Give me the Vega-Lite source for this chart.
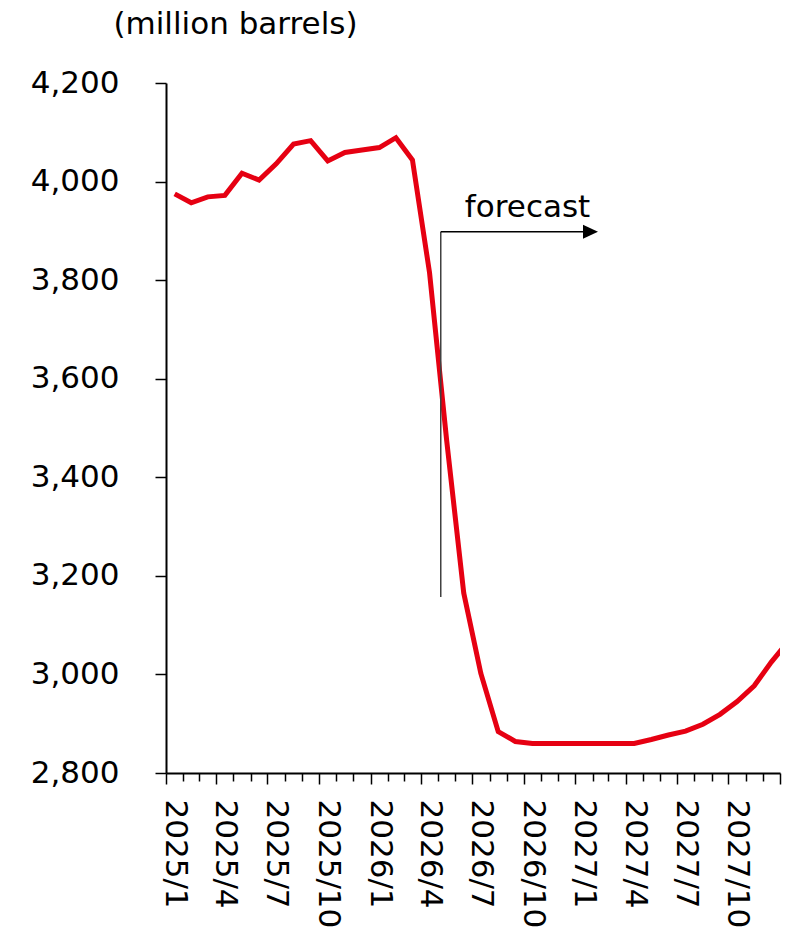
{
  "$schema": "https://vega.github.io/schema/vega-lite/v6.json",
  "width": 614,
  "height": 690,
  "autosize": {"type": "none"},
  "padding": {"left": 166, "top": 83, "right": 14, "bottom": 159},
  "config": {
    "font": "DejaVu Sans",
    "view": {"stroke": null},
    "axis": {
      "grid": false,
      "domainColor": "#000000",
      "domainWidth": 2,
      "tickColor": "#000000",
      "tickWidth": 1.5,
      "labelColor": "#000000",
      "titleColor": "#000000",
      "labelFont": "DejaVu Sans",
      "titleFont": "DejaVu Sans"
    }
  },
  "datasets": {
    "stocks": [
      {"month": "2025-01", "stock": 3975},
      {"month": "2025-02", "stock": 3957},
      {"month": "2025-03", "stock": 3969},
      {"month": "2025-04", "stock": 3972},
      {"month": "2025-05", "stock": 4017},
      {"month": "2025-06", "stock": 4003},
      {"month": "2025-07", "stock": 4036},
      {"month": "2025-08", "stock": 4076},
      {"month": "2025-09", "stock": 4083},
      {"month": "2025-10", "stock": 4042},
      {"month": "2025-11", "stock": 4059},
      {"month": "2025-12", "stock": 4064},
      {"month": "2026-01", "stock": 4069},
      {"month": "2026-02", "stock": 4089},
      {"month": "2026-03", "stock": 4044},
      {"month": "2026-04", "stock": 3815},
      {"month": "2026-05", "stock": 3475},
      {"month": "2026-06", "stock": 3165},
      {"month": "2026-07", "stock": 3002},
      {"month": "2026-08", "stock": 2884},
      {"month": "2026-09", "stock": 2864},
      {"month": "2026-10", "stock": 2860},
      {"month": "2026-11", "stock": 2860},
      {"month": "2026-12", "stock": 2860},
      {"month": "2027-01", "stock": 2860},
      {"month": "2027-02", "stock": 2860},
      {"month": "2027-03", "stock": 2860},
      {"month": "2027-04", "stock": 2860},
      {"month": "2027-05", "stock": 2868},
      {"month": "2027-06", "stock": 2877},
      {"month": "2027-07", "stock": 2885},
      {"month": "2027-08", "stock": 2899},
      {"month": "2027-09", "stock": 2919},
      {"month": "2027-10", "stock": 2945},
      {"month": "2027-11", "stock": 2977},
      {"month": "2027-12", "stock": 3025},
      {"month": "2028-01", "stock": 3068}
    ]
  },
  "layer": [
    {
      "data": {"name": "stocks"},
      "mark": {"type": "line", "color": "#e60012", "strokeWidth": 5, "clip": true},
      "encoding": {
        "x": {
          "field": "month",
          "type": "temporal",
          "timeUnit": "utcyearmonth",
          "bandPosition": 0.5,
          "scale": {
            "type": "utc",
            "domain": [
              {"year": 2025, "month": 1, "date": 1, "utc": true},
              {"year": 2028, "month": 1, "date": 1, "utc": true}
            ],
            "nice": false
          },
          "axis": {
            "title": null,
            "tickCount": {"interval": "month", "step": 1},
            "tickSize": {"condition": {"test": "utcmonth(datum.value) % 3 == 0", "value": 11}, "value": 8},
            "labelExpr": "utcyear(datum.value) < 2028 && utcmonth(datum.value) % 3 == 0 ? utcFormat(datum.value, '%Y/%-m') : ''",
            "labelAngle": 90,
            "labelAlign": "left",
            "labelBaseline": "middle",
            "labelOffset": 8.5,
            "labelPadding": 15,
            "labelFontSize": 31,
            "labelOverlap": false,
            "labelFlush": false,
            "labelBound": false
          }
        },
        "y": {
          "field": "stock",
          "type": "quantitative",
          "scale": {"domain": [2800, 4200], "nice": false, "zero": false},
          "axis": {
            "values": [2800, 3000, 3200, 3400, 3600, 3800, 4000, 4200],
            "labelExpr": "format(datum.value, ',.0f')",
            "tickSize": 11,
            "labelFontSize": 31,
            "labelPadding": 36,
            "title": "(million barrels)",
            "titleAngle": 0,
            "titleX": 69,
            "titleY": -50,
            "titleAlign": "center",
            "titleBaseline": "alphabetic",
            "titleFontSize": 31,
            "titleFontWeight": "normal"
          }
        }
      }
    },
    {
      "data": {"values": [{"date": "2026-05-06", "low": 3157, "high": 3898}]},
      "mark": {"type": "rule", "color": "#404040", "strokeWidth": 1.5},
      "encoding": {
        "x": {"field": "date", "type": "temporal"},
        "y": {"field": "low", "type": "quantitative"},
        "y2": {"field": "high"}
      }
    },
    {
      "data": {"values": [{"start": "2026-05-06", "end": "2027-01-28", "level": 3898}]},
      "mark": {"type": "rule", "color": "#000000", "strokeWidth": 1.5},
      "encoding": {
        "x": {"field": "start", "type": "temporal"},
        "x2": {"field": "end"},
        "y": {"field": "level", "type": "quantitative"}
      }
    },
    {
      "data": {"values": [{"date": "2027-01-28", "level": 3898}]},
      "mark": {
        "type": "point",
        "shape": "M -1 -0.93 L 1 0 L -1 0.93 Z",
        "size": 225,
        "filled": true,
        "color": "#000000",
        "opacity": 1,
        "strokeWidth": 0
      },
      "encoding": {
        "x": {"field": "date", "type": "temporal"},
        "y": {"field": "level", "type": "quantitative"}
      }
    },
    {
      "data": {"values": [{"date": "2026-06-18", "level": 3929, "label": "forecast"}]},
      "mark": {
        "type": "text",
        "align": "left",
        "baseline": "alphabetic",
        "fontSize": 31,
        "font": "DejaVu Sans",
        "color": "#000000"
      },
      "encoding": {
        "x": {"field": "date", "type": "temporal"},
        "y": {"field": "level", "type": "quantitative"},
        "text": {"field": "label"}
      }
    }
  ]
}
